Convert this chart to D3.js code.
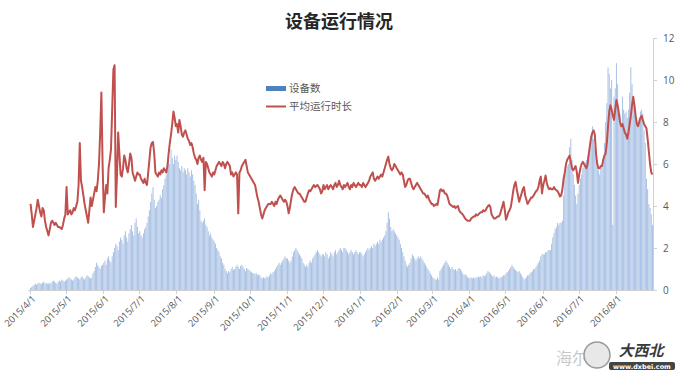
<!DOCTYPE html>
<html><head><meta charset="utf-8">
<script src="https://cdn.jsdelivr.net/npm/d3@7"></script>
<style>body{margin:0;background:#fff}svg{display:block}</style>
</head><body>
<script>
// ---- data ----
const title = "设备运行情况";
const seriesNames = ["设备数", "平均运行时长"];
const startDate = "2015-04-01", endDate = "2016-09-01"; // daily categories (end exclusive)
const monthTickLabels = ["2015/4/1","2015/5/1","2015/6/1","2015/7/1","2015/8/1","2015/9/1","2015/10/1","2015/11/1","2015/12/1","2016/1/1","2016/2/1","2016/3/1","2016/4/1","2016/5/1","2016/6/1","2016/7/1","2016/8/1"];
const yTicks = [0,2,4,6,8,10,12];
const deviceCount = [
 0.1,0.15,0.2,0.25,0.3,0.25,0.3,0.35,0.3,0.3,0.35,0.4,0.3,0.35,0.3,0.3,0.35,0.3,0.4,0.45,0.4,0.35,0.3,0.4,0.45,0.4,0.5,0.45,0.4,0.45,
 0.5,0.55,0.6,0.55,0.5,0.45,0.5,0.6,0.65,0.6,0.55,0.5,0.6,0.65,0.55,0.5,0.6,0.7,0.65,0.6,0.55,0.6,0.8,0.9,1.1,1.3,1.2,1.1,1.0,1.15,1.2,
 1.3,1.4,1.2,1.5,1.6,1.4,1.3,1.6,1.8,2.0,2.2,2.1,1.9,2.3,2.5,2.4,2.2,2.6,2.8,2.5,2.3,2.7,2.9,3.1,2.8,2.6,3.2,3.4,3.0,2.7,
 2.8,2.6,2.5,2.7,2.9,3.0,3.2,3.5,3.8,4.2,4.6,4.9,4.3,3.9,4.0,4.2,4.3,4.5,4.4,4.8,5.0,5.3,5.5,5.8,6.2,6.0,6.7,6.3,6.0,6.4,6.2,
 6.4,6.1,5.8,5.7,5.9,5.6,5.8,5.7,5.5,5.8,5.6,5.4,5.7,5.5,5.2,5.0,4.6,4.1,4.3,3.8,3.3,3.2,3.3,3.4,3.1,3.0,2.8,2.6,2.7,2.5,2.4,
 2.3,2.2,2.0,1.9,1.8,1.6,1.5,1.3,1.2,1.0,0.9,0.8,0.9,0.85,1.0,1.1,0.95,1.0,1.1,1.2,1.1,1.0,1.15,1.2,1.1,1.0,0.9,1.05,1.0,0.95,
 0.9,0.85,0.8,0.8,0.75,0.8,0.7,0.75,0.7,0.6,0.55,0.6,0.55,0.6,0.65,0.6,0.7,0.8,0.75,0.85,0.9,1.0,1.1,1.2,1.3,1.2,1.3,1.4,1.5,1.6,1.5,
 1.5,1.4,1.3,1.4,1.6,1.8,1.9,2.0,1.9,1.8,1.7,1.6,1.5,1.3,1.2,1.1,1.2,1.1,1.3,1.4,1.3,1.5,1.6,1.7,1.8,1.9,1.8,1.7,1.6,1.7,
 1.7,1.6,1.8,1.7,1.5,1.6,1.8,1.7,1.6,1.8,1.9,1.7,1.8,1.9,2.0,1.9,1.8,2.0,2.0,1.9,1.8,1.7,1.8,1.9,1.8,1.7,1.8,1.9,1.8,1.7,1.8,
 1.8,1.7,1.6,1.7,1.8,1.9,2.0,1.9,2.0,2.1,2.0,2.2,2.1,2.2,2.3,2.2,2.4,2.3,2.4,2.5,2.6,2.8,3.2,3.7,3.4,3.0,2.8,2.9,2.8,2.7,2.6,
 2.5,2.4,2.2,2.0,1.8,1.6,1.4,1.2,1.1,1.2,1.3,1.5,1.7,1.6,1.5,1.4,1.5,1.6,1.5,1.6,1.5,1.4,1.3,1.2,1.1,1.0,0.9,0.8,0.7,
 0.6,0.55,0.5,0.5,0.6,0.5,0.9,1.0,1.1,1.2,1.3,1.4,1.3,1.2,1.1,1.0,1.1,1.0,0.95,1.0,0.9,1.0,1.05,1.0,0.9,0.8,0.7,0.75,0.7,0.6,0.6,
 0.55,0.6,0.55,0.6,0.55,0.6,0.6,0.65,0.6,0.65,0.6,0.7,0.65,0.7,0.8,0.9,0.85,0.8,0.7,0.65,0.7,0.6,0.65,0.6,0.55,0.6,0.6,0.65,0.7,0.7,
 0.8,0.85,0.9,1.0,1.1,1.2,1.1,1.0,0.95,0.9,0.85,0.9,0.8,0.7,0.6,0.5,0.55,0.6,0.7,0.7,0.8,0.85,0.9,1.0,1.0,1.1,1.2,1.3,1.4,1.6,1.7,
 1.7,1.7,1.8,1.8,1.9,1.9,1.9,2.2,2.5,2.7,2.9,3.0,3.2,3.1,3.2,3.2,3.3,4.5,5.55,5.7,5.9,6.0,6.8,7.2,6.2,5.5,5.0,4.5,4.1,4.6,
 5.0,5.3,5.5,5.8,5.9,6.1,6.2,6.4,6.6,7.0,7.4,7.8,7.2,6.8,6.5,6.0,5.7,5.5,5.8,6.0,6.1,7.0,8.0,8.9,10.6,10.3,9.6,10.0,3.1,9.2,9.6,
 10.8,9.8,8.6,8.4,7.8,9.2,8.6,8.4,8.5,8.2,8.6,9.4,10.6,9.8,9.0,8.6,8.3,8.1,8.0,8.2,8.5,8.6,8.4,7.6,7.0,5.3,4.8,4.1,3.9,3.6,3.1
];
const avgRunHours = [
 4.1,3.6,3.0,3.3,3.6,3.9,4.3,4.0,3.7,3.5,3.9,3.8,3.3,3.0,2.8,2.6,2.9,3.2,3.3,3.2,3.1,3.2,3.1,3.0,3.0,2.95,2.9,3.1,3.4,3.6,
 4.9,3.6,3.7,3.8,3.6,3.7,3.9,3.8,4.0,4.2,5.0,7.0,5.2,4.9,4.5,4.1,3.8,3.5,3.2,3.8,4.4,4.0,4.3,4.6,4.9,4.7,5.2,6.0,7.5,9.4,6.0,
 3.7,4.4,5.0,4.6,5.8,6.2,6.7,8.6,10.5,10.7,3.95,5.5,7.5,6.5,5.5,5.4,5.8,6.4,6.2,5.8,5.6,6.0,6.5,6.3,5.6,5.4,5.2,5.4,5.6,5.5,
 5.5,5.3,5.2,5.1,5.3,5.1,5.0,5.6,6.2,6.8,7.0,7.05,6.5,5.6,5.5,5.4,5.6,5.5,5.7,5.6,5.8,5.7,5.6,5.9,6.5,7.0,7.4,7.9,8.5,8.2,7.8,
 7.9,7.5,8.1,7.8,7.4,7.3,7.5,7.6,7.4,7.2,7.1,6.9,7.0,6.8,6.5,6.3,6.2,6.0,6.3,6.4,6.2,6.1,6.3,4.75,6.1,6.0,5.8,5.6,5.5,5.4,5.6,
 5.5,5.7,5.9,6.0,6.1,6.0,5.9,6.1,6.0,5.8,6.0,6.1,6.0,5.9,5.5,5.6,5.4,5.5,5.6,5.5,3.65,5.6,5.7,5.9,6.0,6.1,6.2,5.9,5.6,5.5,
 5.4,5.3,5.2,5.1,5.0,4.7,4.4,4.2,3.9,3.6,3.4,3.6,3.8,3.9,4.0,4.1,4.1,4.1,4.2,4.1,4.0,4.2,4.1,4.3,4.4,4.5,4.4,4.3,4.2,4.3,4.2,
 4.0,3.65,3.9,4.3,4.6,4.8,4.9,4.8,4.7,4.6,4.6,4.5,4.4,4.3,4.2,4.2,4.4,4.6,4.75,4.7,4.8,4.9,5.0,4.9,4.95,5.0,4.9,4.8,4.6,4.7,
 5.0,4.8,4.9,5.0,4.8,4.9,5.0,4.9,4.8,5.0,5.1,4.9,5.0,5.2,5.0,4.9,4.8,5.0,4.9,5.0,5.1,4.9,4.8,5.0,4.9,5.1,5.0,4.9,5.0,5.1,5.0,
 5.0,4.9,5.1,5.0,4.9,5.0,5.1,5.2,5.4,5.5,5.6,5.3,5.2,5.3,5.4,5.3,5.4,5.5,5.4,5.6,5.8,6.0,6.2,6.35,6.0,5.8,5.7,5.8,6.0,5.9,5.8,
 5.7,5.6,5.5,5.6,5.5,5.2,4.9,5.0,5.2,5.3,5.3,5.1,4.9,4.8,4.9,5.0,5.1,5.0,4.9,4.8,4.7,4.6,4.6,4.5,4.4,4.5,4.3,4.2,4.1,
 4.1,4.0,4.05,4.1,4.05,4.4,4.75,4.8,4.7,4.75,4.6,4.6,4.5,4.3,4.1,4.05,4.0,3.95,4.0,3.9,3.95,4.0,3.8,3.7,3.65,3.6,3.5,3.4,3.35,3.3,3.3,
 3.3,3.4,3.45,3.5,3.5,3.6,3.55,3.6,3.65,3.7,3.7,3.8,3.75,3.8,3.9,4.0,4.05,3.95,3.6,3.5,3.4,3.4,3.45,3.5,3.5,3.6,3.8,4.0,4.2,3.8,
 3.35,3.5,3.7,3.8,3.95,4.3,4.7,5.0,5.15,4.8,4.5,4.2,4.4,4.6,4.8,4.9,4.5,4.3,4.1,4.2,4.3,4.4,4.4,4.5,4.6,4.7,4.75,4.9,5.2,5.4,4.6,
 5.0,5.2,5.45,5.1,4.9,4.8,4.85,4.8,4.8,4.9,4.8,4.75,4.7,4.6,4.45,4.5,4.8,5.3,5.6,6.0,6.2,6.3,6.4,6.1,5.8,5.7,5.8,5.9,5.6,5.1,
 5.5,5.8,6.0,6.1,6.0,5.9,5.8,6.0,6.5,6.9,7.3,7.5,7.6,7.4,6.5,6.0,5.8,5.8,5.9,5.9,6.2,6.4,6.5,7.0,7.8,8.5,8.8,8.6,8.3,8.1,8.6,
 9.05,8.8,8.4,8.0,7.8,7.9,7.7,7.5,7.4,7.2,7.5,7.9,8.3,8.8,9.2,8.8,8.3,7.9,7.8,8.0,8.2,8.3,8.1,7.9,7.8,7.7,7.2,6.6,6.0,5.6,5.5
];

// ---- chart ----
const W = 684, H = 376;
const plot = {left: 30, right: 653, top: 38, bottom: 290};
const parse = d3.timeParse("%Y-%m-%d");
const days = d3.timeDay.range(parse(startDate), parse(endDate));
const data = days.map((d, i) => ({date: d, dev: deviceCount[i], hrs: avgRunHours[i]}));

const svg = d3.select("body").append("svg").attr("width", W).attr("height", H);
svg.append("rect").attr("width", W).attr("height", H).attr("fill", "#fff");

const x = d3.scaleBand().domain(days.map(d => +d)).range([plot.left, plot.right]).paddingInner(0.18).paddingOuter(0.05);
const y = d3.scaleLinear().domain([0, 12]).range([plot.bottom, plot.top]);

// bars
svg.append("g").selectAll("rect").data(data).join("rect")
  .attr("x", d => x(+d.date))
  .attr("width", x.bandwidth())
  .attr("y", d => y(d.dev))
  .attr("height", d => y(0) - y(d.dev))
  .attr("fill", "#a7c0e4");

// line
const line = d3.line().x(d => x(+d.date) + x.bandwidth() / 2).y(d => y(d.hrs));
svg.append("path").datum(data).attr("d", line)
  .attr("fill", "none").attr("stroke", "#c0504d").attr("stroke-width", 2).attr("stroke-linejoin", "round");

// x axis
const fmtIn = d3.timeParse("%Y/%m/%d");
const monthTicks = monthTickLabels.map(s => ({label: s, date: fmtIn(s)}));
const xPos = dt => plot.left + (plot.right - plot.left) * (dt - days[0]) / (parse(endDate) - days[0]);
const gx = svg.append("g");
gx.append("line").attr("x1", plot.left - 2).attr("x2", plot.right).attr("y1", plot.bottom + 0.5).attr("y2", plot.bottom + 0.5)
  .attr("stroke", "#d0d0d0").attr("stroke-width", 1);
gx.selectAll("line.t").data(monthTicks).join("line").attr("class", "t")
  .attr("x1", d => Math.round(xPos(d.date)) + 0.5).attr("x2", d => Math.round(xPos(d.date)) + 0.5)
  .attr("y1", plot.bottom).attr("y2", plot.bottom + 4).attr("stroke", "#d0d0d0");
gx.selectAll("text").data(monthTicks).join("text")
  .attr("transform", d => `translate(${xPos(d.date) + 4},${plot.bottom + 7}) rotate(-45)`)
  .attr("text-anchor", "end").attr("dy", "0.35em")
  .attr("font-family", "'Open Sans', 'Noto Sans', sans-serif").attr("font-size", 9.5).attr("fill", "#595959")
  .text(d => d.label);

// right axis
const gy = svg.append("g");
gy.append("line").attr("x1", plot.right + 0.5).attr("x2", plot.right + 0.5).attr("y1", plot.top).attr("y2", plot.bottom)
  .attr("stroke", "#d0d0d0");
gy.selectAll("line.t").data(yTicks).join("line").attr("class", "t")
  .attr("x1", plot.right).attr("x2", plot.right + 4)
  .attr("y1", d => Math.round(y(d)) + 0.5).attr("y2", d => Math.round(y(d)) + 0.5).attr("stroke", "#d0d0d0");
gy.selectAll("text").data(yTicks).join("text")
  .attr("x", plot.right + 10).attr("y", d => y(d)).attr("dy", "0.35em")
  .attr("font-family", "'Open Sans', 'Noto Sans', sans-serif").attr("font-size", 10).attr("fill", "#595959")
  .text(d => d);

// title
svg.append("text").attr("x", 339).attr("y", 28).attr("text-anchor", "middle")
  .attr("font-family", "'Noto Sans CJK SC', sans-serif").attr("font-weight", "bold").attr("font-size", 18).attr("fill", "#262626")
  .text(title);

// legend
const lg = svg.append("g").attr("font-family", "'Noto Sans CJK SC', sans-serif").attr("font-size", 10.5).attr("fill", "#595959");
lg.append("rect").attr("x", 266).attr("y", 86).attr("width", 20).attr("height", 5).attr("fill", "#4f81bd");
lg.append("text").attr("x", 289).attr("y", 88.5).attr("dy", "0.35em").text(seriesNames[0]);
lg.append("line").attr("x1", 266).attr("x2", 286).attr("y1", 106.5).attr("y2", 106.5).attr("stroke", "#c0504d").attr("stroke-width", 2);
lg.append("text").attr("x", 289).attr("y", 106.5).attr("dy", "0.35em").text(seriesNames[1]);

// watermark
const wm = svg.append("g");
wm.append("text").attr("x", 556).attr("y", 364).attr("font-family", "'Noto Sans CJK SC', sans-serif")
  .attr("font-size", 16).attr("fill", "#c8c8c8").text("海尔");
wm.append("circle").attr("cx", 597).attr("cy", 355).attr("r", 13).attr("fill", "#e8e8e8").attr("stroke", "#9a9a9a").attr("stroke-width", 1.5);
wm.append("text").attr("x", 641).attr("y", 356).attr("text-anchor", "middle").attr("font-family", "'Noto Sans CJK SC', sans-serif")
  .attr("font-size", 15).attr("font-weight", "bold").attr("font-style", "italic").attr("fill", "#3a3a3a")
  .attr("stroke", "#fff").attr("stroke-width", 2.5).attr("paint-order", "stroke").text("大西北");
wm.append("rect").attr("x", 609).attr("y", 362).attr("width", 66).attr("height", 8).attr("rx", 2).attr("fill", "#444");
wm.append("text").attr("x", 642).attr("y", 368.5).attr("text-anchor", "middle").attr("font-family", "'DejaVu Sans', sans-serif")
  .attr("font-size", 6.5).attr("font-weight", "bold").attr("fill", "#fff").text("www.dxbei.com");
</script>
</body></html>
